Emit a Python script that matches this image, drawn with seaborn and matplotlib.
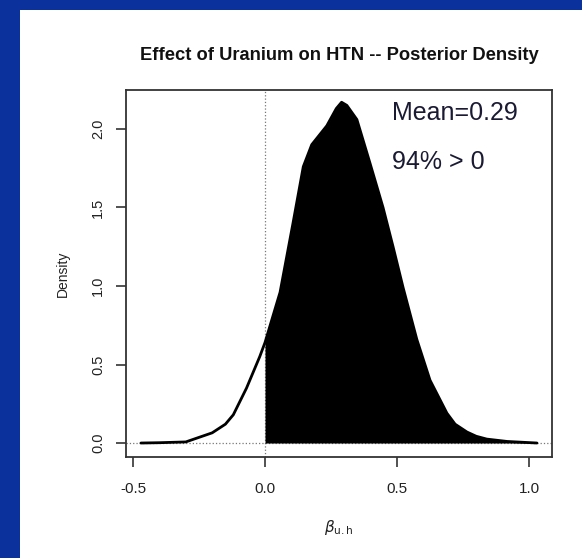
import matplotlib.pyplot as plt
import pandas as pd
import seaborn as sns
from matplotlib.patches import Rectangle

# posterior density of beta_u.h
beta = [-0.47, -0.40, -0.30, -0.20, -0.15, -0.12, -0.07, -0.02, 0.00,
        0.057, 0.106, 0.145, 0.177, 0.234, 0.27, 0.29, 0.31, 0.348, 0.398,
        0.447, 0.485, 0.523, 0.575, 0.625, 0.689, 0.72, 0.765, 0.80, 0.84,
        0.917, 1.03]
density = [0.0, 0.002, 0.007, 0.065, 0.12, 0.18, 0.35, 0.55, 0.64,
           0.96, 1.40, 1.76, 1.90, 2.02, 2.13, 2.17, 2.15, 2.06, 1.78,
           1.50, 1.25, 0.99, 0.66, 0.40, 0.19, 0.12, 0.07, 0.043, 0.025,
           0.01, 0.0]

xticks = [-0.5, 0.0, 0.5, 1.0]
yticks = [0.0, 0.5, 1.0, 1.5, 2.0]
title = "Effect of Uranium on HTN -- Posterior Density"
notes = ["Mean=0.29", "94% > 0"]

df = pd.DataFrame({"beta": beta, "density": density})
pos = df[df["beta"] >= 0]

sns.set_style("ticks")
plt.rcParams["font.family"] = ["Liberation Sans", "DejaVu Sans"]
plt.rcParams["axes.unicode_minus"] = False

W, H = 582, 558
fig = plt.figure(figsize=(W / 100, H / 100), dpi=100)
fig.patch.set_facecolor("#0a319c")
fig.add_artist(Rectangle((20 / W, 0), 1, 1 - 10 / H, transform=fig.transFigure,
                         facecolor="white", edgecolor="none", zorder=0))

ax = fig.add_axes([126 / W, 1 - 457 / H, (552 - 126) / W, (457 - 90) / H])
ax.set_facecolor("white")

sns.lineplot(data=df, x="beta", y="density", ax=ax, color="black", lw=2, sort=False)
ax.fill_between(pos["beta"], pos["density"], color="black", lw=0)
ax.axvline(0, color="#777777", ls=":", lw=0.9, zorder=0)
ax.axhline(0, color="#777777", ls=":", lw=0.9, zorder=0)

ax.set_xlim(-0.5265, 1.087)
ax.set_ylim(-0.089, 2.248)
ax.set_xticks(xticks)
ax.set_xticklabels([f"{t:.1f}" for t in xticks], fontsize=11, color="#222222")
ax.set_yticks(yticks)
ax.set_yticklabels([f"{t:.1f}" for t in yticks], fontsize=10.5, color="#222222",
                   rotation=90, va="center")
ax.tick_params(axis="x", length=7, width=1.2, color="#333333", pad=11)
ax.tick_params(axis="y", length=7, width=1.2, color="#333333", pad=8)
for s in ax.spines.values():
    s.set_color("#333333")
    s.set_linewidth(1.3)

ax.set_xlabel(r"$\beta_{\mathrm{u.h}}$", fontsize=11, color="#222222", labelpad=16)
ax.set_ylabel("Density", fontsize=10, color="#222222", labelpad=15)

fig.text(339 / W, 1 - 55 / H, title, ha="center", va="center",
         fontsize=13.2, fontweight="bold", color="#111111")

ax.text(0.48, 2.10, notes[0], fontsize=18, color="#1a1a33", va="center")
ax.text(0.48, 1.79, notes[1], fontsize=18, color="#1a1a33", va="center")

fig.savefig("out.png", dpi=100)
